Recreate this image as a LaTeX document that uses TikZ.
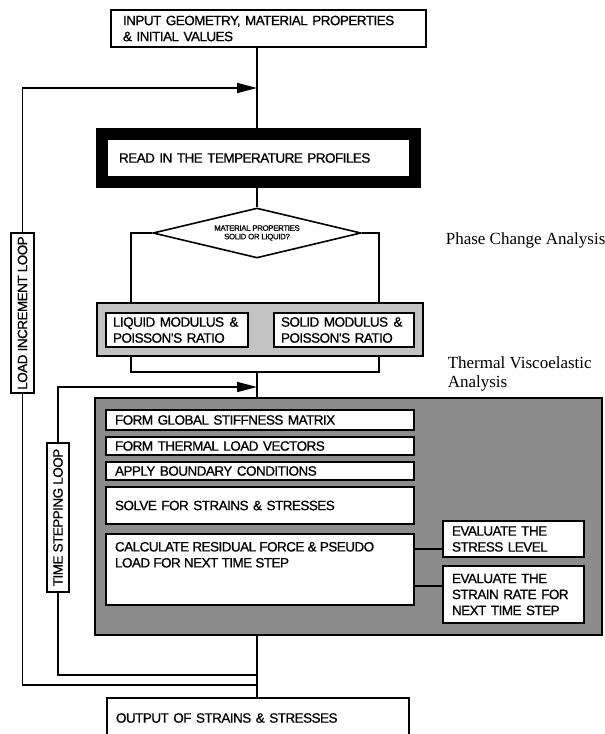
\documentclass[tikz,border=0pt]{standalone}
\usepackage{fontspec}
\setmainfont{Liberation Serif}
\setsansfont{Liberation Sans}[LetterSpace=-4,FakeBold=0.8]
\usetikzlibrary{arrows.meta,shapes.geometric,calc}
\begin{document}
\begin{tikzpicture}[x=1pt,y=-1pt,line width=1.6pt,
  sf/.style={font=\sffamily\fontsize{13.5}{16}\selectfont},
  box/.style={sf,draw=black,line width=1.6pt,fill=white,inner xsep=9pt,inner ysep=0pt,align=left},
  rbox/.style={sf,draw=black,line width=1.6pt,fill=white,inner sep=0pt,rotate=90,align=center},
  arr/.style={-{Triangle[length=20pt,width=10pt]}},
  note/.style={font=\rmfamily\fontsize{17}{18.5}\selectfont,align=left,anchor=west,inner sep=0pt}
]
\useasboundingbox (0,0) rectangle (605,734);
% top box
\node[box,inner xsep=12pt,minimum width=315,minimum height=37,text width=291] (inp) at (268.5,28.5)
  {INPUT GEOMETRY, MATERIAL PROPERTIES\\\& INITIAL VALUES};
% thick box
\node[box,line width=12pt,inner xsep=17pt,minimum width=313,minimum height=48,text width=279] (read) at (258.5,158)
  {READ IN THE TEMPERATURE PROFILES};
% decision
\node[diamond,draw,line width=1.6pt,fill=white,aspect=4,inner sep=0pt,minimum width=208,minimum height=50,
  font=\sffamily\fontsize{7.8}{8.5}\selectfont,align=center] (mat) at (257,233)
  {MATERIAL PROPERTIES\\SOLID OR LIQUID?};
\node[note] (phase) at (445,240) {Phase Change Analysis};
% shaded container
\node[draw,line width=1.6pt,fill=black!24,minimum width=326,minimum height=53,inner sep=0pt] (shade) at (260,329.5) {};
\node[box,inner xsep=7pt,minimum width=142,minimum height=34,text width=128] (liq) at (177,330)
  {LIQUID MODULUS\hspace{0.4em}\&\\POISSON'S RATIO};
\node[box,inner xsep=7pt,minimum width=140,minimum height=34,text width=126] (sol) at (344,330)
  {SOLID MODULUS\hspace{0.4em}\&\\POISSON'S RATIO};
\node[note] (therm) at (447,374) {Thermal Viscoelastic\\Analysis};
% big viscoelastic box
\node[draw,line width=1.6pt,fill=black!45,minimum width=507,minimum height=237,inner sep=0pt] (big) at (348.5,516.5) {};
\node[box,minimum width=308,minimum height=20,text width=290] (g1) at (260,420) {FORM GLOBAL STIFFNESS MATRIX};
\node[box,minimum width=308,minimum height=18,text width=290] (g2) at (260,446) {FORM THERMAL LOAD VECTORS};
\node[box,minimum width=308,minimum height=18,text width=290] (g3) at (260,471) {APPLY BOUNDARY CONDITIONS};
\node[box,minimum width=308,minimum height=37,text width=290] (g4) at (260,505.5) {SOLVE FOR STRAINS \& STRESSES};
\node[box,minimum width=308,minimum height=71,text width=290] (g5) at (260,569.5) {};
\node[sf,anchor=north west,inner sep=0pt,align=left] (g5t) at ($(g5.north west)+(9,8)$)
  {CALCULATE RESIDUAL FORCE \& PSEUDO\\LOAD FOR NEXT TIME STEP};
\node[box,minimum width=141,minimum height=36,text width=123] (stress) at (513.5,539)
  {EVALUATE THE\\STRESS LEVEL};
\node[box,minimum width=141,minimum height=57,text width=123] (strain) at (513.5,594.5)
  {EVALUATE THE\\STRAIN RATE FOR\\NEXT TIME STEP};
\draw ([yshift=-10pt]stress.west) -- ([yshift=-10pt]stress.west -| g5.east);
\draw ([yshift=8.5pt]strain.west) -- ([yshift=8.5pt]strain.west -| g5.east);
% loop boxes
\node[rbox,minimum width=160,minimum height=23] (lbox) at (22.5,313) {LOAD INCREMENT LOOP};
\node[rbox,minimum width=149,minimum height=22] (tbox) at (58,517.5) {TIME STEPPING LOOP};
% output box
\node[box,minimum width=302,minimum height=40,text width=284] (out) at (258,718) {OUTPUT OF STRAINS \& STRESSES};
% coordinates on main line
\coordinate (cx) at (257,0);
\coordinate (jl) at (257,88);
\coordinate (blt) at (131,303);
\coordinate (brt) at (379,303);
\coordinate (blb) at (131,356);
\coordinate (brb) at (379,356);
\coordinate (jn) at (257,372);
\coordinate (jt) at (257,387);
\coordinate (jb1) at (257,675);
\coordinate (jb2) at (257,685);
% connectors
\draw (inp.south -| cx) -- (read.north -| cx);
\draw[arr] (lbox.east) |- (jl);
\draw (read.south -| cx) -- (mat.north);
\draw (mat.west) -| (blt);
\draw (mat.east) -| (brt);
\draw (blb) |- (jn) -| (brb);
\draw (jn) -- (jn |- big.north);
\draw[arr] (tbox.east) |- (jt);
\draw (tbox.west) |- (jb1);
\draw (lbox.west) |- (jb2);
\draw (jb2 |- big.south) -- (jb2 |- out.north);
\end{tikzpicture}
\end{document}
